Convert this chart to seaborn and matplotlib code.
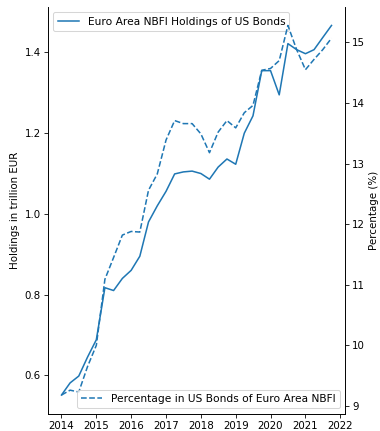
import pandas as pd
import numpy as np
import seaborn as sns
import matplotlib.pyplot as plt
import matplotlib.dates as mdates

plt.rcParams["font.family"] = ["DejaVu Sans"]

quarters = pd.date_range("2014-01-01", periods=32, freq="QS")

holdings = [0.551, 0.581, 0.598, 0.645, 0.688, 0.817, 0.810, 0.840,
            0.860, 0.895, 0.980, 1.020, 1.056, 1.099, 1.104, 1.106,
            1.100, 1.086, 1.116, 1.136, 1.123, 1.200, 1.243, 1.355,
            1.355, 1.295, 1.422, 1.407, 1.397, 1.407, 1.437, 1.467]

share_pct = [9.18, 9.26, 9.23, 9.65, 10.00, 11.09, 11.45, 11.82,
             11.88, 11.87, 12.56, 12.83, 13.39, 13.71, 13.66, 13.66,
             13.49, 13.18, 13.52, 13.71, 13.59, 13.84, 13.96, 14.54,
             14.57, 14.70, 15.28, 14.88, 14.55, 14.72, 14.88, 15.07]

df = pd.DataFrame({"date": quarters, "holdings": holdings, "share": share_pct})

# drawn at dpi 74 so the default matplotlib sizes shrink like the reference
fig, ax = plt.subplots(figsize=(380 / 74, 431 / 74), dpi=74)
fig.subplots_adjust(left=0.1263, right=0.9079, top=0.9838, bottom=0.0406)

sns.lineplot(data=df, x="date", y="holdings", ax=ax, color="#1f77b4",
             label="Euro Area NBFI Holdings of US Bonds")
ax.set_xlabel("")
ax.set_ylabel("Holdings in trillion EUR")

ax2 = ax.twinx()
sns.lineplot(data=df, x="date", y="share", ax=ax2, color="#1f77b4",
             linestyle="--", label="Percentage in US Bonds of Euro Area NBFI")
ax2.set_ylabel("Percentage (%)")

ax.xaxis.set_major_locator(mdates.YearLocator())
ax.xaxis.set_major_formatter(mdates.DateFormatter("%Y"))

ax.spines["top"].set_visible(False)
ax2.spines["top"].set_visible(False)

ax.legend(loc="upper left", fontsize=10.4)
ax2.legend(loc="lower right", fontsize=10.4)

plt.savefig("out.png", dpi=74)
